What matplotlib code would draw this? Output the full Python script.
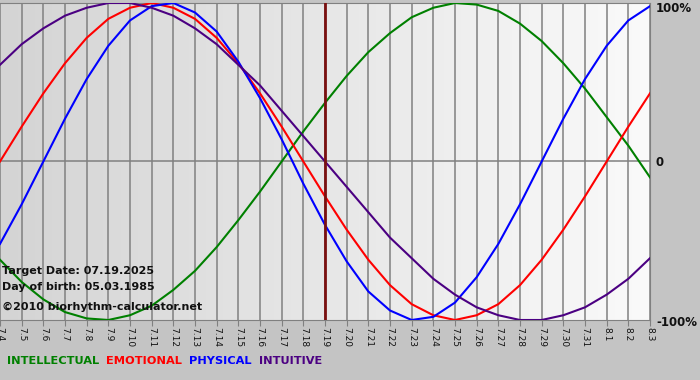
import numpy as np
import matplotlib
matplotlib.use("Agg")
import matplotlib.pyplot as plt

# day labels shown under the chart
day_labels = ["7.4", "7.5", "7.6", "7.7", "7.8", "7.9", "7.10", "7.11", "7.12", "7.13",
              "7.14", "7.15", "7.16", "7.17", "7.18", "7.19", "7.20", "7.21", "7.22",
              "7.23", "7.24", "7.25", "7.26", "7.27", "7.28", "7.29", "7.30", "7.31",
              "8.1", "8.2", "8.3"]
target_day = "7.19"

# cycle values (fraction of 100%), one per day
intellectual = [-0.62, -0.76, -0.87, -0.95, -0.99, -1.00, -0.97, -0.91, -0.81, -0.69,
                -0.54, -0.37, -0.19, 0.00, 0.19, 0.37, 0.54, 0.69, 0.81, 0.91,
                0.97, 1.00, 0.99, 0.95, 0.87, 0.76, 0.62, 0.46, 0.28, 0.10, -0.10]
emotional = [0.00, 0.22, 0.43, 0.62, 0.78, 0.90, 0.97, 1.00, 0.97, 0.90,
             0.78, 0.62, 0.43, 0.22, 0.00, -0.22, -0.43, -0.62, -0.78, -0.90,
             -0.97, -1.00, -0.97, -0.90, -0.78, -0.62, -0.43, -0.22, 0.00, 0.22, 0.43]
physical = [-0.52, -0.27, 0.00, 0.27, 0.52, 0.73, 0.89, 0.98, 1.00, 0.94,
            0.82, 0.63, 0.40, 0.14, -0.14, -0.40, -0.63, -0.82, -0.94, -1.00,
            -0.98, -0.89, -0.73, -0.52, -0.27, 0.00, 0.27, 0.52, 0.73, 0.89, 0.98]
intuitive = [0.61, 0.74, 0.84, 0.92, 0.97, 1.00, 1.00, 0.97, 0.92, 0.84,
             0.74, 0.61, 0.48, 0.32, 0.16, 0.00, -0.16, -0.32, -0.48, -0.61,
             -0.74, -0.84, -0.92, -0.97, -1.00, -1.00, -0.97, -0.92, -0.84, -0.74, -0.61]

series = [("INTELLECTUAL", intellectual, "#008000"),
          ("EMOTIONAL", emotional, "#ff0000"),
          ("PHYSICAL", physical, "#0000ff"),
          ("INTUITIVE", intuitive, "#4b0082")]


def hgrad(c0, c1, steps=256):
    # horizontal grey gradient as an RGB image row
    v = np.linspace(c0, c1, steps) / 255.0
    return np.dstack([v, v, v])


W, H = 700, 380
fig = plt.figure(figsize=(W / 100, H / 100), dpi=100)

# background: grey right margin, gradient band at the bottom
bg = fig.add_axes([0, 0, 1, 1], zorder=-10)
bg.set_xlim(0, W)
bg.set_ylim(H, 0)
bg.axis("off")
bg.add_patch(plt.Rectangle((0, 0), W, H, color="#c4c4c4"))
bg.imshow(hgrad(240, 196), extent=(0, W, H, 321), aspect="auto",
          interpolation="bilinear")

# plot area in pixels
left, right, top, bottom = 0, 650, 3, 320
ax = fig.add_axes([left / W, 1 - bottom / H, (right - left) / W, (bottom - top) / H])
n = len(day_labels)
x = np.arange(n)
ax.set_xlim(0, n - 1)
ax.set_ylim(-1, 1)
ax.imshow(hgrad(212, 250), extent=(0, n - 1, -1, 1), aspect="auto",
          interpolation="bilinear", zorder=0)

for xi in x:
    ax.axvline(xi, color="#808080", lw=1.1, zorder=1)
ax.axhline(0, color="#808080", lw=1.1, zorder=1)

for name, vals, col in series:
    ax.plot(x, vals, color=col, lw=1.5, zorder=3, solid_joinstyle="round")

ax.axvline(day_labels.index(target_day), color="#7a1010", lw=2, zorder=4)

for s in ax.spines.values():
    s.set_color("#808080")
ax.spines["left"].set_visible(False)

ax.set_xticks(x)
ax.set_xticklabels(day_labels, rotation=-90, fontsize=6.5, color="#111111")
ax.tick_params(axis="x", length=4, color="#808080", pad=1)
ax.set_yticks([])

# right-hand percent labels (pixel rows of their centres)
for ypix, lab in [(8, "100%"), (162, "0"), (322, "-100%")]:
    fig.text(656 / W, 1 - ypix / H, lab, fontsize=8.5, fontweight="bold",
             va="center", ha="left", color="#111111")

info = ["Target Date: 07.19.2025", "Day of birth: 05.03.1985",
        "\u00a92010 biorhythm-calculator.net"]
for ypix, line in zip([271, 287, 307], info):
    fig.text(2 / W, 1 - ypix / H, line, fontsize=8, fontweight="bold",
             va="center", ha="left", color="#111111")

# coloured legend words along the bottom
xpos = 7
for name, vals, col in series:
    t = fig.text(xpos / W, 1 - 361 / H, name, fontsize=8.2, fontweight="bold",
                 color=col, va="center", ha="left")
    fig.canvas.draw()
    bb = t.get_window_extent()
    xpos = bb.x1 + 7

fig.savefig("out.png", dpi=100)
